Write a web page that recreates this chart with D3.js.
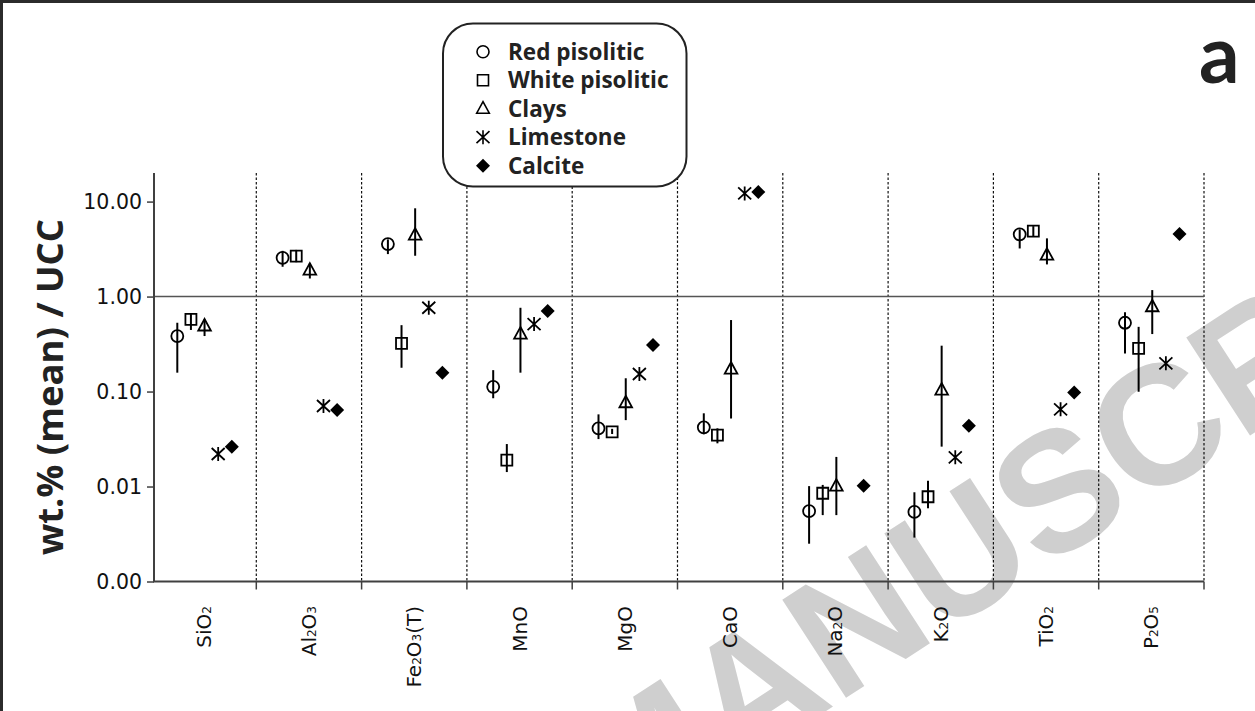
<!DOCTYPE html>
<html>
<head>
<meta charset="utf-8">
<script src="https://cdn.jsdelivr.net/npm/d3@7"></script>
<style>
  html, body { margin: 0; padding: 0; background: #fff; }
  svg { display: block; }
</style>
</head>
<body>
<div id="chart"></div>
<script>
// oxides on the x axis (digits become subscripts)
const categories = ['SiO2', 'Al2O3', 'Fe2O3(T)', 'MnO', 'MgO', 'CaO', 'Na2O', 'K2O', 'TiO2', 'P2O5'];
const series = ['Red pisolitic', 'White pisolitic', 'Clays', 'Limestone', 'Calcite'];
const yTicks = [10, 1, 0.1, 0.01, 0.001];

// wt.% (mean) / UCC, with min / max whiskers
const redMean = [0.384, 2.56, 3.57, 0.112, 0.041, 0.042, 0.0055, 0.0054, 4.52, 0.53];
const redLow = [0.158, 2.06, 2.8, 0.085, 0.0316, 0.0355, 0.0025, 0.0029, 3.21, 0.252];
const redHigh = [0.53, 3.03, 4.0, 0.168, 0.0575, 0.059, 0.0101, 0.0087, 5.1, 0.682];

const whiteMean = [0.575, 2.67, 0.321, 0.019, 0.0377, 0.0348, 0.0085, 0.0078, 4.89, 0.285];
const whiteLow = [0.445, 2.3, 0.178, 0.0142, 0.0357, 0.0285, 0.005, 0.0059, 4.26, 0.0995];
const whiteHigh = [0.67, 3.1, 0.5, 0.028, 0.0405, 0.041, 0.0104, 0.0115, 5.52, 0.48];

const clayMean = [0.49, 1.9, 4.44, 0.403, 0.0762, 0.1725, 0.0101, 0.1037, 2.73, 0.781];
const clayLow = [0.384, 1.55, 2.69, 0.158, 0.05, 0.052, 0.005, 0.0263, 2.18, 0.403];
const clayHigh = [0.575, 2.24, 8.5, 0.762, 0.138, 0.566, 0.0205, 0.304, 4.1, 1.17];

const limestone = [0.022, 0.0704, 0.762, 0.513, 0.153, 12.2, null, 0.0203, 0.065, 0.198];
const calcite = [0.0262, 0.0638, 0.158, 0.703, 0.309, 12.6, 0.0102, 0.0437, 0.098, 4.55];

const width = 1255;
const height = 711;
const plot = { left: 151, right: 1204, top: 173, bottom: 581.5 };

const svg = d3.select('#chart')
    .append('svg')
    .attr('width', width)
    .attr('height', height);

// watermark behind everything
svg.append('text')
    .attr('transform', 'translate(1058,490) rotate(-33)')
    .attr('text-anchor', 'middle')
    .attr('dominant-baseline', 'central')
    .attr('font-family', 'Liberation Sans, Arial, sans-serif')
    .attr('font-weight', 'bold')
    .attr('font-size', 170)
    .attr('fill', '#cfcfcf')
    .text('MANUSCRIPT');

// frame (left and top edges)
svg.append('path')
    .attr('d', 'M1.5,' + height + 'V1.5H' + width)
    .attr('fill', 'none')
    .attr('stroke', '#2b2b2b')
    .attr('stroke-width', 3);

const xScale = d3.scaleBand()
    .domain(categories)
    .range([plot.left, plot.right])
    .padding(0);

const xInner = d3.scalePoint()
    .domain(series)
    .range([26.3, 80.8]);

const yScale = d3.scaleLog()
    .domain([0.001, 20])
    .range([plot.bottom, plot.top]);

// dotted separators between oxides
svg.append('g')
    .selectAll('line')
    .data(categories)
    .enter()
    .append('line')
    .attr('x1', d => xScale(d) + xScale.bandwidth())
    .attr('x2', d => xScale(d) + xScale.bandwidth())
    .attr('y1', plot.top)
    .attr('y2', plot.bottom)
    .attr('stroke', '#111')
    .attr('stroke-width', 1.2)
    .attr('stroke-dasharray', '2.5,2');

// reference line at 1.00
svg.append('line')
    .attr('x1', 154)
    .attr('x2', plot.right)
    .attr('y1', yScale(1))
    .attr('y2', yScale(1))
    .attr('stroke', '#555')
    .attr('stroke-width', 1.6);

// y axis
const yAxis = d3.axisLeft(yScale)
    .tickValues(yTicks)
    .tickFormat(d3.format('.2f'))
    .tickSize(7)
    .tickSizeOuter(0)
    .tickPadding(5);

const gy = svg.append('g')
    .attr('transform', 'translate(154,0)')
    .call(yAxis);
gy.select('.domain').attr('stroke', '#404040').attr('stroke-width', 2)
    .attr('d', 'M0,' + plot.top + 'V' + plot.bottom);
gy.selectAll('.tick line').attr('stroke', '#404040').attr('stroke-width', 1.5);
gy.selectAll('.tick text')
    .attr('font-family', 'DejaVu Sans, sans-serif')
    .attr('font-size', 20.5)
    .attr('fill', '#111');

// x axis: ticks on the band edges, labels drawn separately
const gx = svg.append('g')
    .attr('transform', 'translate(0,' + plot.bottom + ')');
gx.append('line')
    .attr('x1', 153)
    .attr('x2', plot.right)
    .attr('stroke', '#404040')
    .attr('stroke-width', 2);
gx.selectAll('line.tk')
    .data(categories)
    .enter()
    .append('line')
    .attr('class', 'tk')
    .attr('x1', d => xScale(d) + xScale.bandwidth())
    .attr('x2', d => xScale(d) + xScale.bandwidth())
    .attr('y1', 0)
    .attr('y2', 8)
    .attr('stroke', '#404040')
    .attr('stroke-width', 1.5);

const labels = svg.append('g')
    .selectAll('text')
    .data(categories)
    .enter()
    .append('text')
    .attr('transform', d => 'translate(' + (xScale(d) + xScale.bandwidth() / 2 + 7) + ',606) rotate(-90)')
    .attr('text-anchor', 'end')
    .attr('font-family', 'DejaVu Sans, sans-serif')
    .attr('font-size', 20)
    .attr('fill', '#111');
labels.each(function(d) {
    const t = d3.select(this);
    d.split(/(\d)/).filter(s => s.length).forEach(function(part) {
        const sub = /\d/.test(part);
        t.append('tspan')
            .attr('font-size', sub ? 12 : 20)
            .text(part);
    });
});

// y axis title
svg.append('text')
    .attr('transform', 'translate(63,387) rotate(-90)')
    .attr('text-anchor', 'middle')
    .attr('font-family', 'Open Sans, sans-serif')
    .attr('font-weight', 'bold')
    .attr('font-size', 36.5)
    .attr('fill', '#222')
    .text('wt.% (mean) / UCC');

// panel letter
svg.append('text')
    .attr('x', 1199)
    .attr('y', 83)
    .attr('font-family', 'Lato, sans-serif')
    .attr('font-weight', 'bold')
    .attr('font-size', 80)
    .attr('fill', '#222')
    .text('a');

// marker shapes
const markerPath = {
    'Red pisolitic': 'M6,0A6,6 0 1,1 -6,0A6,6 0 1,1 6,0Z',
    'White pisolitic': 'M-5.5,-5.5H5.5V5.5H-5.5Z',
    'Clays': 'M0,-7L6.3,4.5H-6.3Z',
    'Limestone': 'M0,-7V7M-6.5,-6L6.5,6M-6.5,6L6.5,-6',
    'Calcite': 'M0,-7L7,0L0,7L-7,0Z'
};
const filled = { 'Calcite': true };

function drawSeries(name, mean, low, high) {
    const g = svg.append('g');
    const pts = categories.map((c, i) => ({ c: c, v: mean[i], lo: low ? low[i] : null, hi: high ? high[i] : null }))
        .filter(p => p.v != null);
    if (low) {
        g.selectAll('line')
            .data(pts)
            .enter()
            .append('line')
            .attr('x1', p => xScale(p.c) + xInner(name))
            .attr('x2', p => xScale(p.c) + xInner(name))
            .attr('y1', p => yScale(p.hi))
            .attr('y2', p => yScale(p.lo))
            .attr('stroke', '#000')
            .attr('stroke-width', 2);
    }
    g.selectAll('path')
        .data(pts)
        .enter()
        .append('path')
        .attr('transform', p => 'translate(' + (xScale(p.c) + xInner(name)) + ',' + yScale(p.v) + ')')
        .attr('d', markerPath[name])
        .attr('fill', filled[name] ? '#000' : 'none')
        .attr('stroke', '#000')
        .attr('stroke-width', filled[name] ? 0 : 1.8);
}

drawSeries('Red pisolitic', redMean, redLow, redHigh);
drawSeries('White pisolitic', whiteMean, whiteLow, whiteHigh);
drawSeries('Clays', clayMean, clayLow, clayHigh);
drawSeries('Limestone', limestone);
drawSeries('Calcite', calcite);

// legend
const legend = svg.append('g');
legend.append('rect')
    .attr('x', 443)
    .attr('y', 23.5)
    .attr('width', 243.5)
    .attr('height', 163)
    .attr('rx', 30)
    .attr('fill', '#fff')
    .attr('stroke', '#222')
    .attr('stroke-width', 2);

const legendY = d3.scalePoint()
    .domain(series)
    .range([51.7, 165.7]);

const rows = legend.selectAll('g.row')
    .data(series)
    .enter()
    .append('g')
    .attr('class', 'row')
    .attr('transform', d => 'translate(483,' + legendY(d) + ')');
rows.append('path')
    .attr('d', d => markerPath[d])
    .attr('fill', d => filled[d] ? '#000' : 'none')
    .attr('stroke', '#000')
    .attr('stroke-width', d => filled[d] ? 0 : 1.6);
rows.append('text')
    .attr('x', 25)
    .attr('y', 8)
    .attr('font-family', 'Open Sans, sans-serif')
    .attr('font-weight', 'bold')
    .attr('font-size', 22.5)
    .attr('fill', '#222')
    .text(d => d);
</script>
</body>
</html>
